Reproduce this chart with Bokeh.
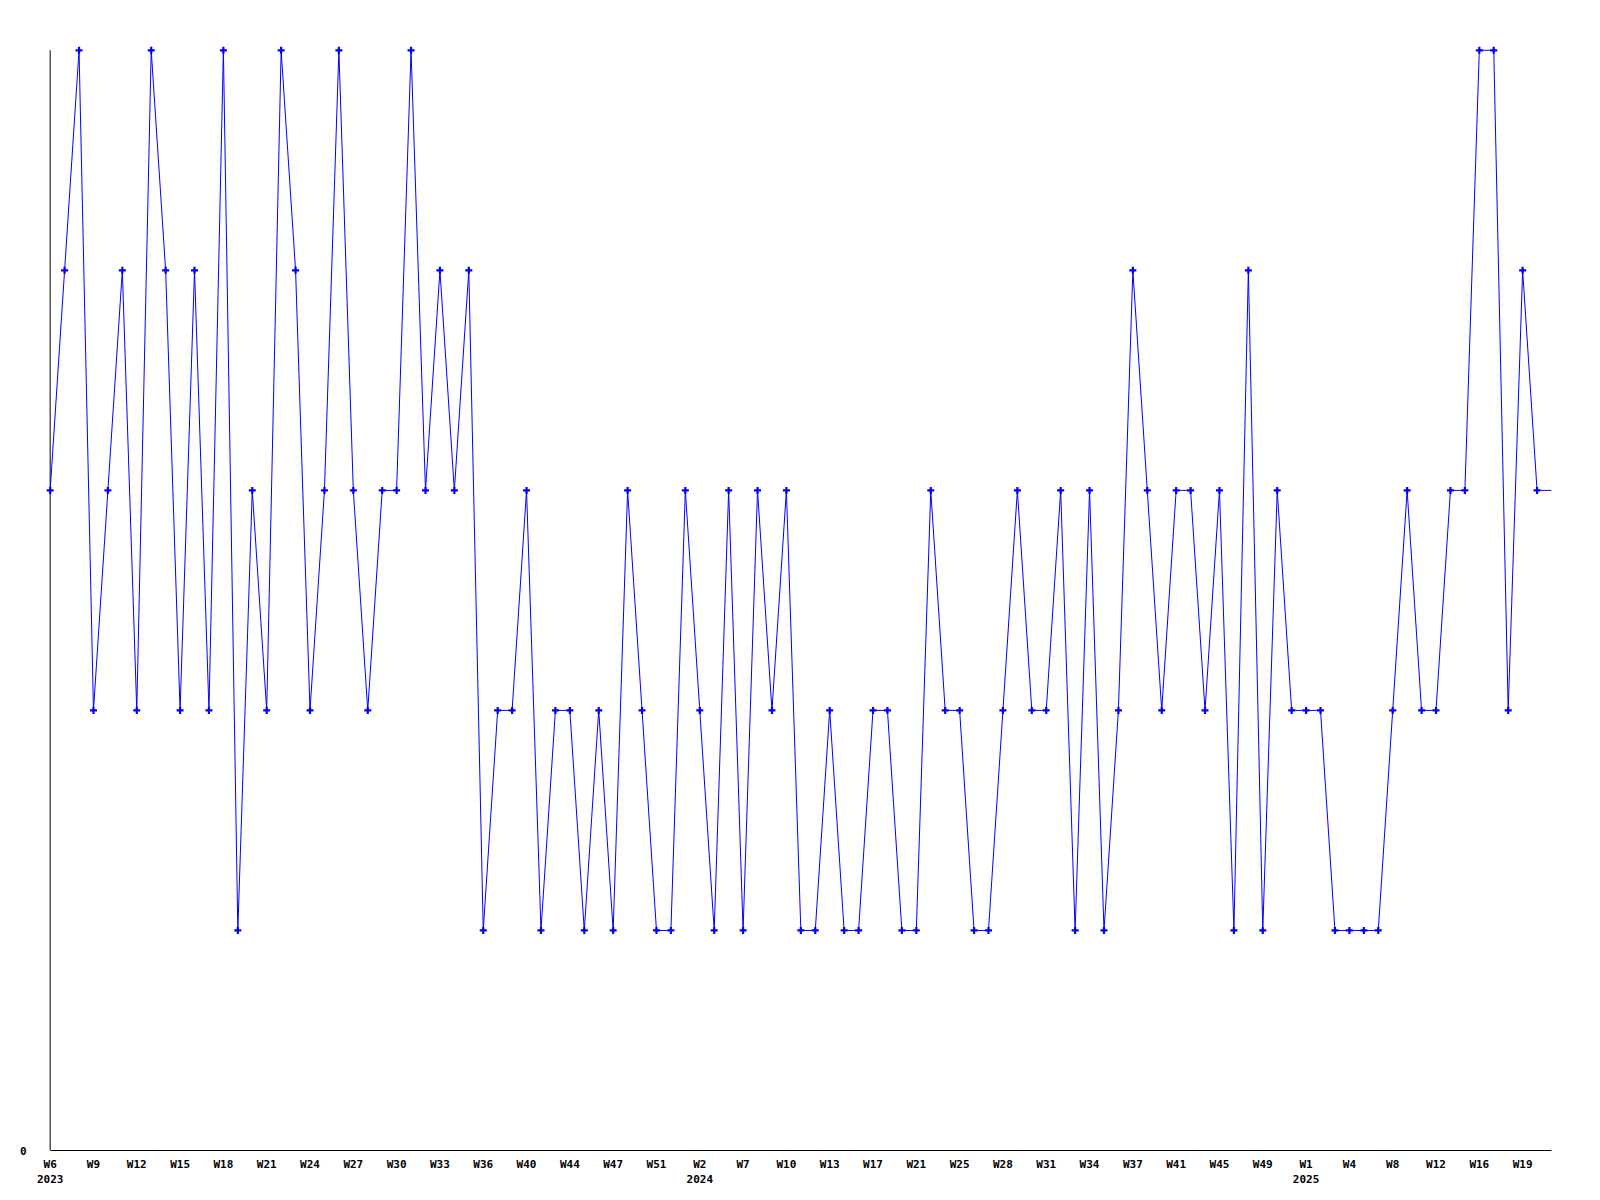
from bokeh.plotting import figure
from bokeh.models import Range1d, FixedTicker, ColumnDataSource
from bokeh.embed import file_html
from bokeh.resources import INLINE

# values per sample (index 0 .. 104); last sample drawn without marker
values = [3, 4, 5, 2, 3, 4, 2, 5, 4, 2,
          4, 2, 5, 1, 3, 2, 5, 4, 2, 3,
          5, 3, 2, 3, 3, 5, 3, 4, 3, 4,
          1, 2, 2, 3, 1, 2, 2, 1, 2, 1,
          3, 2, 1, 1, 3, 2, 1, 3, 1, 3,
          2, 3, 1, 1, 2, 1, 1, 2, 2, 1,
          1, 3, 2, 2, 1, 1, 2, 3, 2, 2,
          3, 1, 3, 1, 2, 4, 3, 2, 3, 3,
          2, 3, 1, 4, 1, 3, 2, 2, 2, 1,
          1, 1, 1, 2, 3, 2, 2, 3, 3, 5,
          5, 2, 4, 3, 3]

week_labels = ["W6", "W9", "W12", "W15", "W18", "W21", "W24", "W27", "W30", "W33",
               "W36", "W40", "W44", "W47", "W51", "W2", "W7", "W10", "W13", "W17",
               "W21", "W25", "W28", "W31", "W34", "W37", "W41", "W45", "W49", "W1",
               "W4", "W8", "W12", "W16", "W19"]
year_labels = {0: "2023", 15: "2024", 29: "2025"}
label_step = 3
y_min = 0
y_max = 5

xs = list(range(len(values)))
line_src = ColumnDataSource(dict(x=xs, y=values))
mark_src = ColumnDataSource(dict(x=xs[:-1], y=values[:-1]))

p = figure(width=1584, height=1190, output_backend="svg", toolbar_location=None,
           x_range=Range1d(-0.6, len(values) - 1), y_range=Range1d(y_min, y_max * 1.008),
           min_border_left=41, min_border_right=33, min_border_top=41, min_border_bottom=40)
p.frame_width = 1510
p.frame_height = 1109
p.outline_line_color = None
p.xgrid.visible = False
p.ygrid.visible = False

# vertical axis line at the first sample, spanning the value range
p.segment(x0=[xs[0]], y0=[y_min], x1=[xs[0]], y1=[y_max], line_color="black", line_width=1)

p.line("x", "y", source=line_src, line_color="#0000FF", line_width=1)
p.scatter("x", "y", source=mark_src, marker="cross", size=7, line_width=2.2, line_color="#0000FF")

tick_pos = [i * label_step for i in range(len(week_labels))]
overrides = {}
for i, (t, w) in enumerate(zip(tick_pos, week_labels)):
    overrides[t] = w + ("\n" + year_labels[i] if i in year_labels else "")

xa = p.xaxis[0]
xa.ticker = FixedTicker(ticks=tick_pos)
xa.major_label_overrides = overrides
xa.bounds = (0, len(values) - 1)
xa.major_tick_line_color = None
xa.minor_tick_line_color = None
xa.major_label_standoff = 1
xa.axis_line_color = "black"
xa.major_label_text_font = "DejaVu Sans Mono"
xa.major_label_text_font_style = "bold"
xa.major_label_text_font_size = "11px"
xa.major_label_text_color = "black"

ya = p.yaxis[0]
ya.ticker = FixedTicker(ticks=[y_min])
ya.major_tick_line_color = None
ya.minor_tick_line_color = None
ya.major_label_standoff = 9
ya.axis_line_color = None
ya.major_label_text_font = "DejaVu Sans Mono"
ya.major_label_text_font_style = "bold"
ya.major_label_text_font_size = "11px"
ya.major_label_text_color = "black"

open("out.html", "w").write(file_html(p, INLINE))
